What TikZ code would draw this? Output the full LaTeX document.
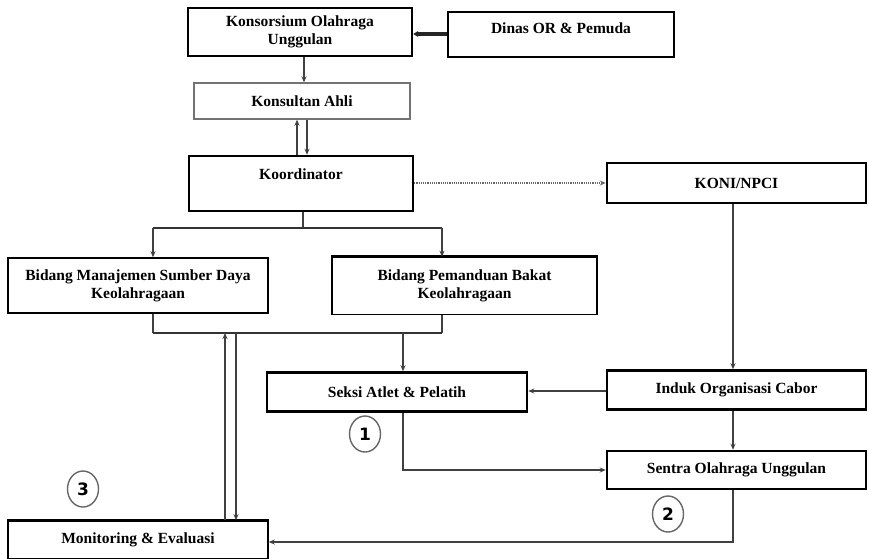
\documentclass[tikz,border=0pt]{standalone}
\usepackage{fontspec}
\setmainfont{Liberation Serif}
\newfontfamily\numfont{DejaVu Sans}
\usetikzlibrary{arrows.meta,calc,shapes.geometric}

\begin{document}
\begin{tikzpicture}[x=1pt,y={(0pt,-1pt)},
  box/.style={draw=black, line width=2.5pt, fill=white, inner sep=0pt, align=center,
    font=\fontsize{15.5}{18}\selectfont\bfseries},
  thinbox/.style={box, draw=black!55, line width=1.4pt},
  conn/.style={draw=black!75, line width=1.2pt},
  arr/.style={conn, -{Stealth[length=6pt,width=5pt]}},
  bus/.style={draw=black!80, line width=2.6pt},
  num/.style={draw=black!60, line width=1.4pt, shape=ellipse, minimum width=31pt, minimum height=36pt,
    inner sep=0pt, font=\numfont\bfseries\fontsize{17}{17}\selectfont}
]
\useasboundingbox (0,0) rectangle (869,558);

% boxes
\node[box, minimum width=224, minimum height=48] (kons) at (300,32) {Konsorsium Olahraga\\Unggulan};
\node[box, minimum width=226, minimum height=45] (dinas) at (561,34.5) {Dinas OR \& Pemuda\\[-5pt]\mbox{}};
\node[thinbox, minimum width=216, minimum height=36] (ahli) at (302,101) {Konsultan Ahli};
\node[box, minimum width=224, minimum height=55] (koor) at (301,183.5) {Koordinator\\\mbox{}};
\node[box, minimum width=259, minimum height=40] (koni) at (736.5,183) {KONI/NPCI};
\node[box, line width=1.6pt, minimum width=260, minimum height=55] (bm) at (138,285.5) {Bidang Manajemen Sumber Daya\\Keolahragaan};
\node[box, line width=1.6pt, minimum width=265, minimum height=57] (bp) at (464.5,286) {Bidang Pemanduan Bakat\\Keolahragaan};
\node[box, minimum width=260, minimum height=39] (seksi) at (397,392) {Seksi Atlet \& Pelatih};
\node[box, minimum width=259, minimum height=39] (induk) at (736.5,390) {Induk Organisasi Cabor};
\node[box, minimum width=259, minimum height=38] (sentra) at (736.5,470) {Sentra Olahraga Unggulan};
\node[box, line width=1.6pt, minimum width=260, minimum height=38] (monev) at (138,540) {Monitoring \& Evaluasi};
% heavier top edges
\draw[line width=2.8pt] (bp.north west) -- (bp.north east);
\draw[line width=2.8pt] (monev.north west) -- (monev.north east);

% bus junction points
\coordinate (topbus) at (303,228);
\coordinate (lowbus) at (303,333);

% top of the chart
\draw[line width=3.2pt, draw=black!85, -{Stealth[length=5pt,width=6pt]}] (dinas.west |- 0,34) -- (kons.east |- 0,34);
\draw[arr] (kons.south -| 304,0) -- (ahli.north -| 304,0);
\draw[arr] (koor.north -| 297,0) -- (ahli.south -| 297,0);
\draw[arr] (ahli.south -| 307,0) -- (koor.north -| 307,0);
\draw[conn, densely dotted, draw=black!60, -{Stealth[length=6pt,width=5pt]}] (koor.east |- 0,183) -- (koni.west |- 0,183);

% split from Koordinator to the two Bidang
\draw[conn] (koor.south -| topbus) -- (topbus);
\draw[bus] (153,228) -- (442,228);
\draw[arr] (153,228) -- (bm.north -| 153,0);
\draw[arr] (442,228) -- (bp.north -| 442,0);

% merge below the two Bidang
\draw[conn] (bm.south -| 153,0) -- (153,333);
\draw[conn] (bp.south -| 442,0) -- (442,333);
\draw[bus] (153,333) -- (442,333);
\draw[arr] (403,333) -- (seksi.north -| 403,0);
\draw[arr] (monev.north -| 225,0) -- (225,333);
\draw[arr] (236,333) -- (monev.north -| 236,0);

% right column
\draw[arr] (koni.south -| 733,0) -- (induk.north -| 733,0);
\draw[arr] (induk.west |- 0,391) -- (seksi.east |- 0,391);
\draw[arr] (induk.south -| 733,0) -- (sentra.north -| 733,0);
\draw[arr] (seksi.south -| 403,0) |- (sentra.west |- 0,470);
\draw[arr] (sentra.south -| 733,0) |- (monev.east |- 0,542);

% step markers
\node[num] (n1) at (365,434) {1};
\node[num] (n2) at (668,514) {2};
\node[num] (n3) at (83,489) {3};
\end{tikzpicture}
\end{document}
